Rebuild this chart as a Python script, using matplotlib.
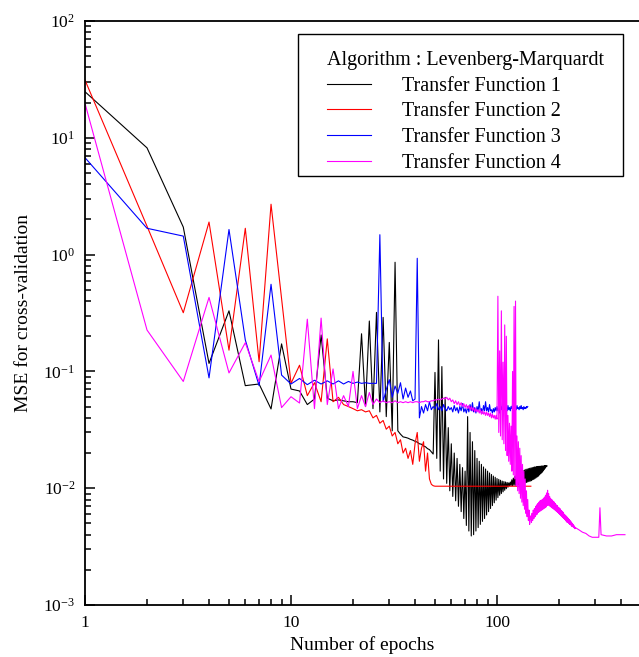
import matplotlib
matplotlib.use("Agg")
import matplotlib.pyplot as plt
from matplotlib.patches import Rectangle
from matplotlib.ticker import LogLocator, FixedLocator, FixedFormatter, NullFormatter

plt.rcParams['font.family'] = ['Liberation Serif', 'DejaVu Serif']
plt.rcParams['mathtext.fontset'] = 'custom'
plt.rcParams['mathtext.rm'] = 'Liberation Serif'
plt.rcParams['mathtext.it'] = 'Liberation Serif:italic'
plt.rcParams['mathtext.default'] = 'regular'

# ---- cross-validation MSE per training epoch (epochs start at 1) ----
tf1_mse = [
    24.8, 8.2, 1.72, 0.117, 0.33, 0.0755, 0.078, 0.0477, 0.172, 0.0706,
    0.068, 0.052, 0.058, 0.205, 0.059, 0.056, 0.057, 0.056, 0.055, 0.055,
    0.054, 0.21, 0.05, 0.27, 0.048, 0.32, 0.045, 0.29, 0.041, 0.177,
    0.031, 0.86, 0.031, 0.029, 0.0275, 0.0272, 0.0268, 0.0262, 0.0258, 0.0252,
    0.0248, 0.0240, 0.0238, 0.0230, 0.0226, 0.0218, 0.0214, 0.0205, 0.0196, 0.098,
    0.018, 0.186, 0.014, 0.11, 0.012, 0.06, 0.011, 0.033, 0.0095, 0.024,
    0.0085, 0.02, 0.0078, 0.018, 0.007, 0.016, 0.0063, 0.015, 0.0055, 0.014,
    0.0048, 0.041, 0.0043, 0.03, 0.0039, 0.025, 0.004, 0.021, 0.0043, 0.018,
    0.0046, 0.017, 0.0049, 0.016, 0.0052, 0.0152, 0.0055, 0.0146, 0.0059, 0.014,
    0.0063, 0.0135, 0.0067, 0.0131, 0.0071, 0.0127, 0.0075, 0.0124, 0.0079, 0.0121,
    0.0083, 0.0119, 0.0087, 0.0117, 0.009, 0.0115, 0.0093, 0.0114, 0.0096, 0.0113,
    0.0099, 0.0112, 0.0102, 0.0111, 0.0105, 0.0113, 0.0105, 0.0118, 0.0105, 0.0122,
    0.0106, 0.0126, 0.0106, 0.0129, 0.0107, 0.0132, 0.0107, 0.0135, 0.0108, 0.0137,
    0.0109, 0.0139, 0.011, 0.0141, 0.011, 0.0143, 0.0111, 0.0145, 0.0112, 0.0146,
    0.0113, 0.0147, 0.0114, 0.0148, 0.0115, 0.0149, 0.0116, 0.015, 0.0118, 0.0151,
    0.0119, 0.0152, 0.0121, 0.0152, 0.0123, 0.0153, 0.0125, 0.0153, 0.0127, 0.0154,
    0.013, 0.0154, 0.0133, 0.0155, 0.0136, 0.0155, 0.014, 0.0155, 0.0144, 0.0156,
    0.0148, 0.0156, 0.0152, 0.0156, 0.0155,
]

tf2_mse = [
    31.2, 1.75, 0.318, 1.9, 0.152, 1.68, 0.121, 2.7, 0.42, 0.079,
    0.113, 0.062, 0.08, 0.055, 0.19, 0.055, 0.06, 0.052, 0.05, 0.048,
    0.046, 0.047, 0.045, 0.046, 0.04, 0.042, 0.036, 0.038, 0.032, 0.034,
    0.028, 0.03, 0.024, 0.026, 0.02, 0.022, 0.018, 0.021, 0.016, 0.024,
    0.03, 0.017, 0.022, 0.025, 0.014, 0.02, 0.012, 0.0108, 0.0105, 0.0104,
]
tf2_tail_epochs = [146]
tf2_tail_mse = [0.0104]

tf3_mse = [
    6.76, 1.68, 1.44, 0.088, 1.64, 0.186, 0.0755, 0.557, 0.093, 0.078,
    0.087, 0.077, 0.084, 0.078, 0.083, 0.078, 0.083, 0.078, 0.082, 0.079,
    0.081, 0.079, 0.08, 0.079, 0.079, 0.079, 1.48, 0.055, 0.07, 0.085,
    0.06, 0.075, 0.065, 0.08, 0.058, 0.072, 0.06, 0.068, 0.056, 0.058,
    0.93, 0.04, 0.05, 0.044, 0.052, 0.046, 0.055, 0.047, 0.05, 0.048,
    0.053, 0.047, 0.05, 0.046, 0.052, 0.048, 0.046, 0.05, 0.047, 0.049,
    0.045, 0.051, 0.046, 0.049, 0.044, 0.05, 0.046, 0.053, 0.045, 0.048,
    0.044, 0.05, 0.045, 0.052, 0.046, 0.054, 0.045, 0.049, 0.044, 0.05,
    0.046, 0.055, 0.045, 0.048, 0.044, 0.051, 0.046, 0.055, 0.046, 0.049,
    0.045, 0.052, 0.046, 0.047, 0.044, 0.048, 0.045, 0.049, 0.046, 0.05,
    0.046, 0.048, 0.044, 0.055, 0.047, 0.05, 0.046, 0.049, 0.047, 0.05,
    0.048, 0.046, 0.051, 0.047, 0.049, 0.046, 0.05, 0.048, 0.052, 0.047,
    0.049, 0.046, 0.05, 0.047, 0.051, 0.048, 0.049, 0.047, 0.05, 0.048,
    0.051, 0.048, 0.049, 0.047, 0.05, 0.048, 0.049, 0.048, 0.05, 0.049,
    0.05,
]

tf4_mse = [
    19.7, 0.226, 0.082, 0.43, 0.097, 0.176, 0.0817, 0.138, 0.049, 0.0607,
    0.0536, 0.28, 0.048, 0.286, 0.052, 0.105, 0.048, 0.062, 0.05, 0.1,
    0.048, 0.062, 0.05, 0.066, 0.052, 0.058, 0.054, 0.056, 0.054, 0.055,
    0.054, 0.056, 0.054, 0.055, 0.054, 0.055, 0.054, 0.055, 0.054, 0.055,
    0.055, 0.054, 0.055, 0.055, 0.056, 0.055, 0.055, 0.056, 0.056, 0.057,
    0.057, 0.058, 0.057, 0.058, 0.059, 0.058, 0.06, 0.057, 0.059, 0.055,
    0.057, 0.053, 0.056, 0.052, 0.055, 0.051, 0.054, 0.05, 0.053, 0.049,
    0.052, 0.048, 0.051, 0.047, 0.05, 0.046, 0.049, 0.045, 0.048, 0.045,
    0.047, 0.044, 0.047, 0.043, 0.046, 0.043, 0.045, 0.042, 0.045, 0.042,
    0.044, 0.041, 0.044, 0.04, 0.043, 0.04, 0.042, 0.039, 0.042, 0.039,
    0.44, 0.03, 0.15, 0.028, 0.33, 0.026, 0.12, 0.024, 0.25, 0.021,
    0.2, 0.019, 0.042, 0.017, 0.036, 0.016, 0.034, 0.014, 0.1, 0.013,
    0.36, 0.012, 0.4, 0.0105, 0.028, 0.0095, 0.025, 0.009, 0.022, 0.0082,
    0.019, 0.0076, 0.016, 0.0071, 0.014, 0.0066, 0.012, 0.0061, 0.0095, 0.0057,
    0.008, 0.0053, 0.0065, 0.0049, 0.0056, 0.0058, 0.0051, 0.0061, 0.0053, 0.0065,
    0.0055, 0.0067, 0.0057, 0.007, 0.0059, 0.0072, 0.006, 0.0074, 0.0062, 0.0076,
    0.0063, 0.0078, 0.0064, 0.0079, 0.0065, 0.008, 0.0066, 0.0082, 0.0067, 0.0084,
    0.0068, 0.0087, 0.0069, 0.0091, 0.0071, 0.0096, 0.0072, 0.009, 0.0071, 0.0085,
    0.007, 0.0082, 0.0069, 0.008, 0.0068, 0.0079, 0.0067, 0.0077, 0.0066, 0.0076,
    0.0065, 0.0074, 0.0064, 0.0072, 0.0063, 0.0071, 0.0062, 0.0069, 0.0061, 0.0068,
    0.006, 0.0067, 0.0059, 0.0065, 0.0058, 0.0064, 0.0057, 0.0063, 0.0056, 0.0062,
    0.0055, 0.006, 0.0054, 0.0059, 0.0053, 0.0058, 0.0052, 0.0057, 0.0051, 0.0056,
    0.0051, 0.0055, 0.005, 0.0054, 0.0049, 0.0053, 0.0049, 0.0052, 0.0048, 0.0051,
    0.0047, 0.005, 0.0047, 0.0049, 0.0046, 0.0048, 0.0046, 0.0047, 0.0045, 0.0046,
]
tf4_tail_epochs = [245, 250, 260, 270, 280, 290, 300, 308, 312, 316, 320, 340, 360, 380, 400, 418]
tf4_tail_mse = [0.0045, 0.0044, 0.0042, 0.0041, 0.0039, 0.0038, 0.0038, 0.0038, 0.0038,
                0.0068, 0.004, 0.0039, 0.0039, 0.004, 0.004, 0.004]

labels = ["Transfer Function 1", "Transfer Function 2",
          "Transfer Function 3", "Transfer Function 4"]
colors = ["#000000", "#ff0000", "#0000ff", "#ff00ff"]
legend_title = "Algorithm : Levenberg-Marquardt"

x_ticks = [1, 10, 100]
x_tick_labels = ["1", "10", "100"]


def epochs_for(values, start=1):
    return list(range(start, start + len(values)))


series = [
    (epochs_for(tf1_mse), tf1_mse),
    (epochs_for(tf2_mse) + tf2_tail_epochs, tf2_mse + tf2_tail_mse),
    (epochs_for(tf3_mse), tf3_mse),
    (epochs_for(tf4_mse) + tf4_tail_epochs, tf4_mse + tf4_tail_mse),
]

W, H = 639, 657
fig = plt.figure(figsize=(W / 100, H / 100), dpi=100)
ax = fig.add_axes([85 / W, 52 / H, 554 / W, 584 / H])

for (ep, mse), lab, col in zip(series, labels, colors):
    ax.plot(ep, mse, color=col, lw=0.8, label=lab)

ax.set_xscale('log')
ax.set_yscale('log')
ax.set_xlim(1, 10 ** (554 / 206))
ax.set_ylim(1e-3, 1e2)

ax.spines['right'].set_visible(False)
for s in ('left', 'bottom', 'top'):
    ax.spines[s].set_linewidth(1.3)

ax.xaxis.set_major_locator(FixedLocator(x_ticks))
ax.xaxis.set_major_formatter(FixedFormatter(x_tick_labels))
ax.xaxis.set_minor_locator(LogLocator(base=10, subs=range(2, 10), numticks=20))
ax.xaxis.set_minor_formatter(NullFormatter())
ax.yaxis.set_major_locator(LogLocator(base=10, numticks=10))
ax.yaxis.set_minor_locator(LogLocator(base=10, subs=range(2, 10), numticks=20))
ax.yaxis.set_minor_formatter(NullFormatter())

ax.tick_params(which='both', direction='in', top=False, right=False, width=1.1)
ax.tick_params(which='major', length=7, labelsize=12.5, pad=7)
ax.tick_params(which='minor', length=4)

ax.set_xlabel("Number of epochs", fontsize=14, labelpad=4)
ax.set_ylabel("MSE for cross-validation", fontsize=14, labelpad=8)

# legend contents without its own frame; the box is drawn separately
leg = ax.legend(title=legend_title, loc='upper left',
                bbox_to_anchor=(327 / W, (H - 51) / H),
                bbox_transform=fig.transFigure,
                borderaxespad=0, borderpad=0, fontsize=14.5, title_fontsize=14.5,
                frameon=False, handlelength=2.2, handletextpad=1.5,
                labelspacing=0.33, alignment='left')
leg.set_zorder(5)

box = Rectangle((298 / W, (H - 176) / H), 325 / W, 142 / H,
                transform=fig.transFigure, fill=True, facecolor='white',
                edgecolor='black', lw=1.0, zorder=4)
ax.add_artist(box)
box.set_clip_on(False)

fig.savefig("out.png", dpi=100)
